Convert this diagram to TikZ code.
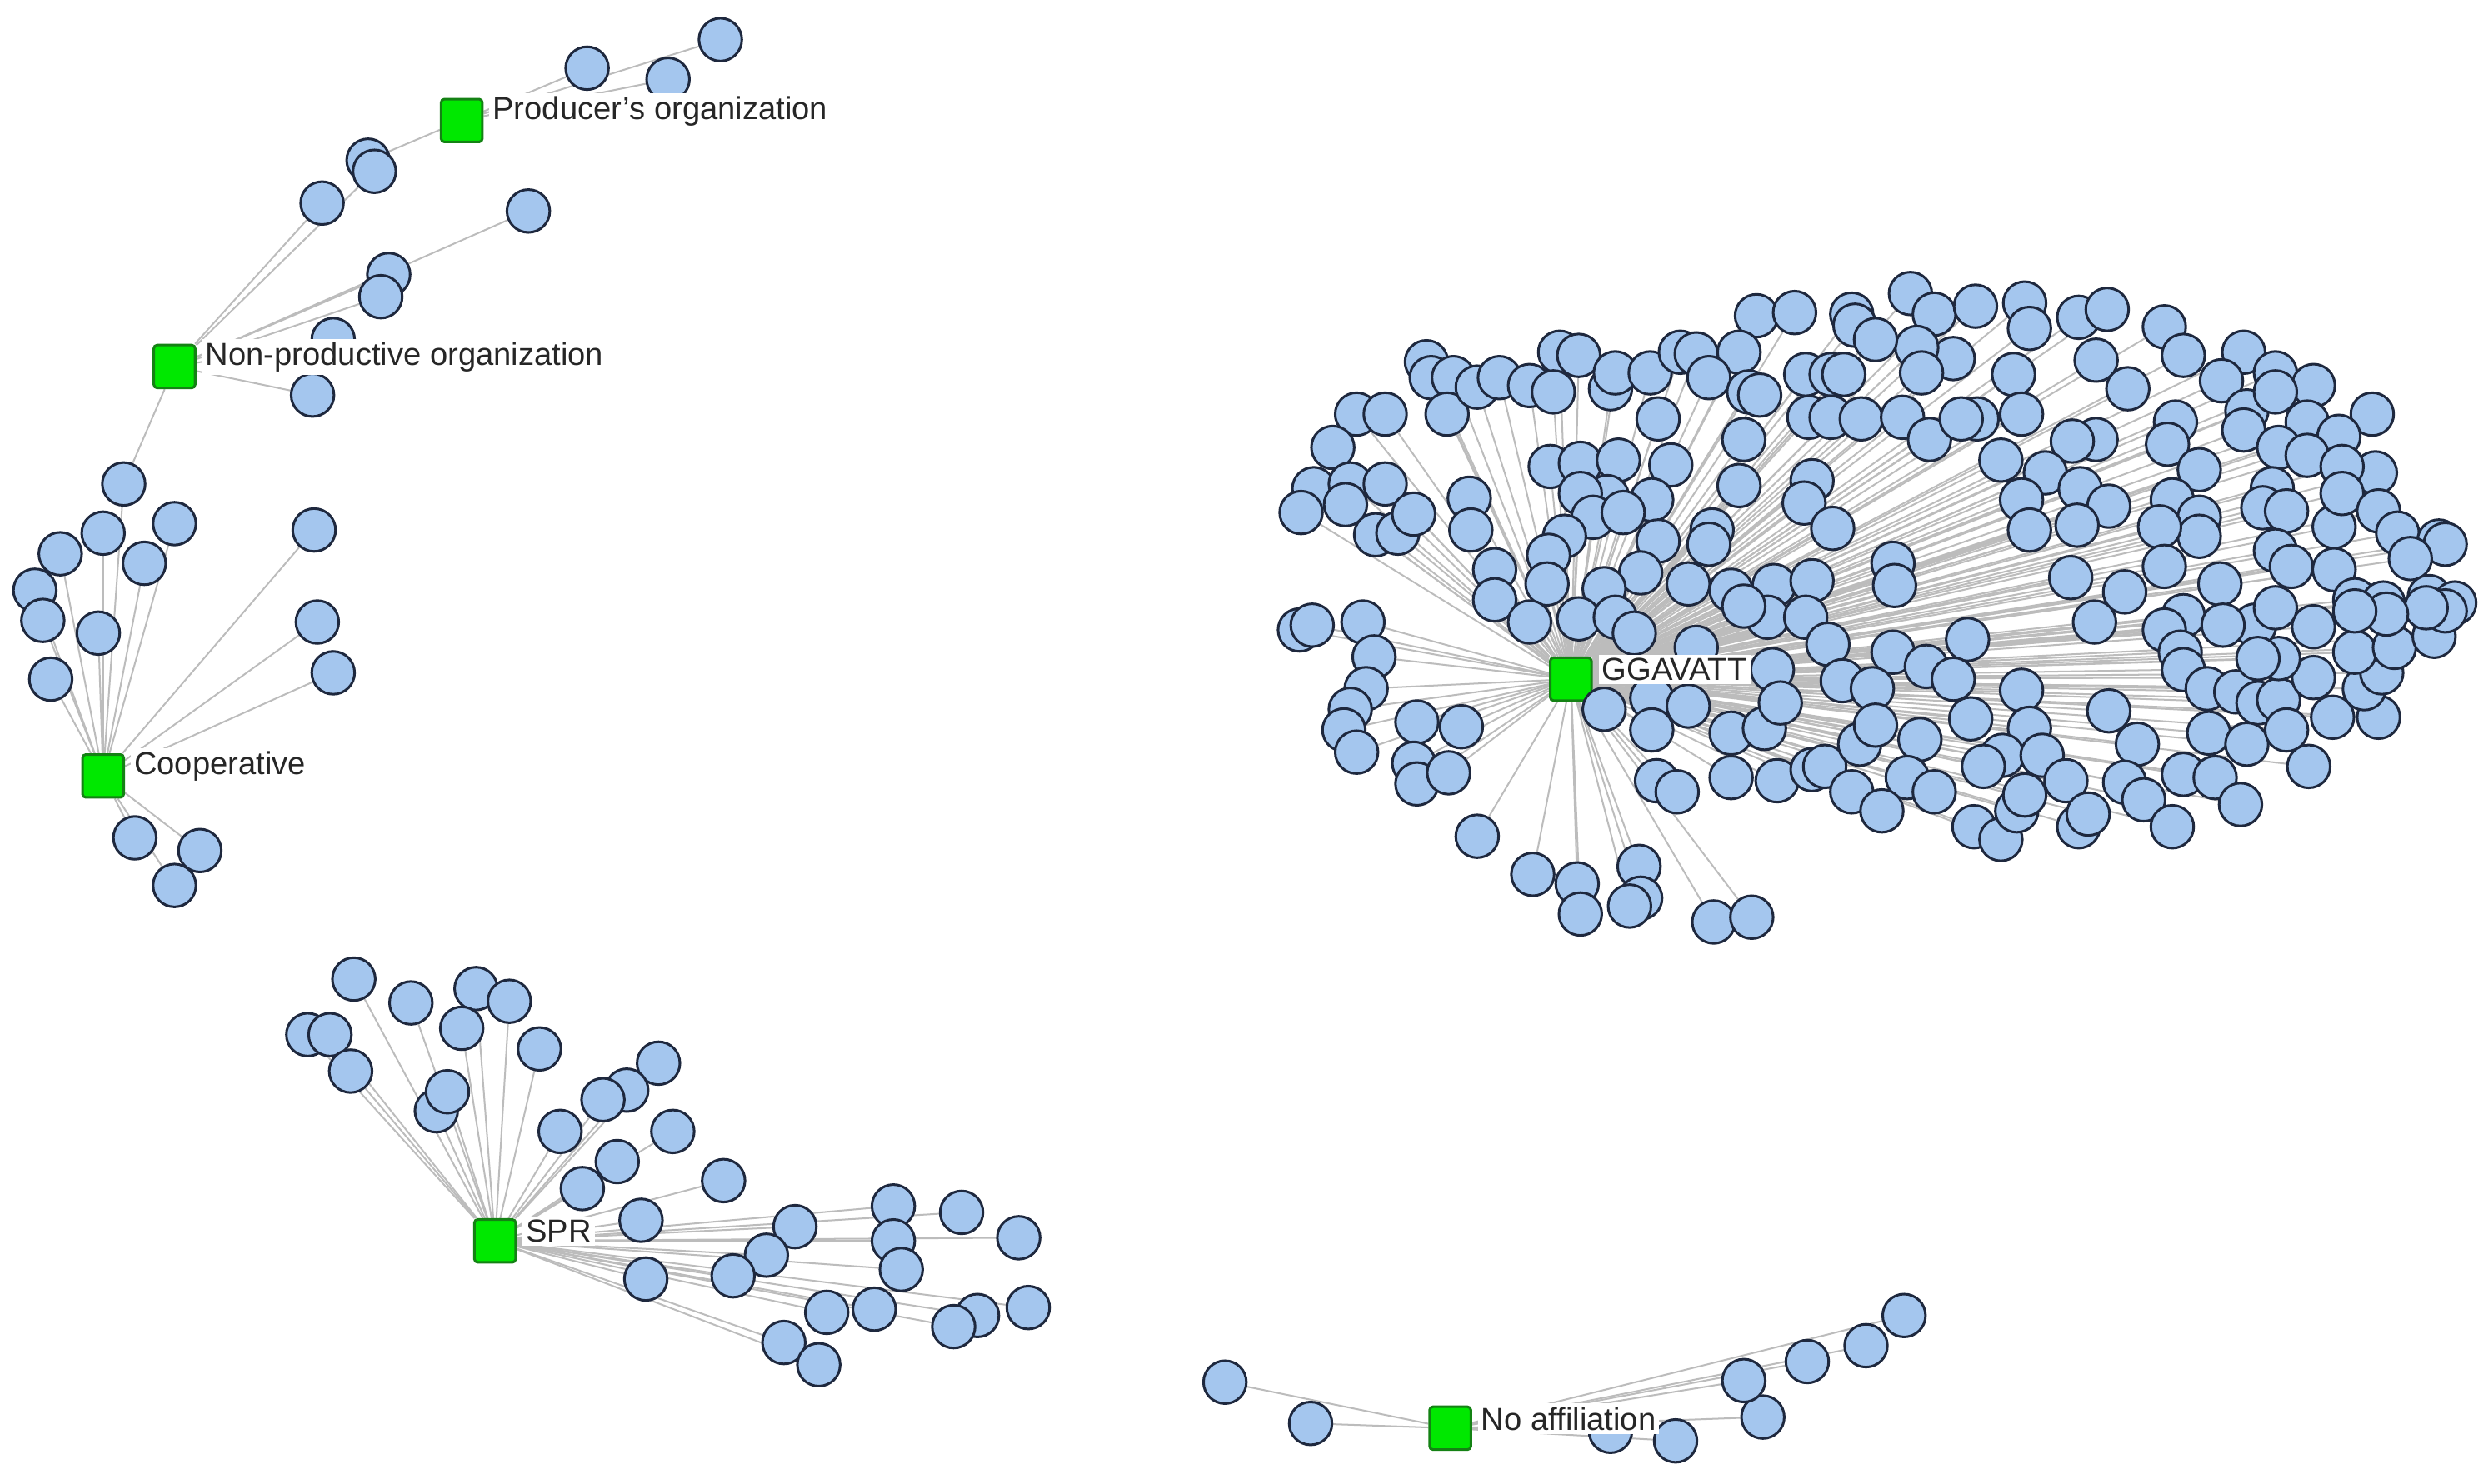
\documentclass[tikz,border=0pt]{standalone}
\usepackage{fontspec}
\setmainfont{Liberation Sans}
\pgfdeclarelayer{bg}
\pgfsetlayers{bg,main}
\definecolor{leaffill}{RGB}{164,198,238}
\definecolor{leafdraw}{RGB}{30,40,62}
\definecolor{hubfill}{RGB}{0,232,0}
\definecolor{hubdraw}{RGB}{20,130,20}
\definecolor{edgecol}{RGB}{188,188,188}
\tikzset{
 leaf/.style={circle, draw=leafdraw, fill=leaffill, line width=0.45pt, minimum size=0.27cm, inner sep=0pt},
 hub/.style={rectangle, draw=hubdraw, fill=hubfill, line width=0.45pt, minimum width=0.26cm, minimum height=0.27cm, inner sep=0pt, rounded corners=0.6pt},
 edge/.style={draw=edgecol, line width=0.3pt},
 hublabel/.style={anchor=west, fill=white, inner sep=0.6pt, font=\fontsize{5.7pt}{6.5pt}\selectfont, text=black!85},
}
\begin{document}
\begin{tikzpicture}[x=0.01cm, y=-0.01cm]
\useasboundingbox (0,0) rectangle (1568,935);

% hubs
\node[hub] (P) at (291,76) {};
\node[hub] (N) at (110,231) {};
\node[hub] (C) at (65,489) {};
\node[hub] (G) at (990,428) {};
\node[hub] (S) at (312,782) {};
\node[hub] (A) at (914,900) {};

% Producer's organization
\foreach \x/\y [count=\i] in {454/25, 421/50, 370/43, 232/101}{
  \node[leaf] (p\i) at (\x,\y) {};
}
% Non-productive organization
\foreach \x/\y [count=\i] in {236/108, 203/128, 333/133, 245/173, 240/187, 210/214, 197/249, 78/305}{
  \node[leaf] (n\i) at (\x,\y) {};
}
% Cooperative
\foreach \x/\y [count=\i] in {65/336, 110/330, 38/349, 91/355, 22/372, 27/391, 62/399, 32/428, 198/334, 200/392, 210/424, 85/528, 126/536, 110/558}{
  \node[leaf] (c\i) at (\x,\y) {};
}
% SPR
\foreach \x/\y [count=\i] in {223/617, 259/632, 300/623, 321/631, 194/652, 208/652, 291/648, 340/661, 221/675, 415/670, 395/687, 380/693, 275/700, 282/688, 353/713, 424/713, 389/732, 367/749, 456/744, 404/769, 501/773, 563/760, 606/764, 563/782, 642/780, 483/791, 568/800, 407/806, 462/804, 521/827, 551/825, 616/829, 601/836, 648/824, 494/846, 516/860}{
  \node[leaf] (s\i) at (\x,\y) {};
}
% No affiliation
\foreach \x/\y [count=\i] in {772/871, 826/897, 1015/902, 1056/908, 1111/893, 1099/870, 1139/858, 1176/848, 1200/829}{
  \node[leaf] (a\i) at (\x,\y) {};
}
% GGAVATT
\foreach \x/\y [count=\i] in {
 1107/199, 1131/197, 1167/198, 1169/205, 899/228, 902/238, 916/238, 912/261, 931/244, 945/238,
 964/243, 983/222, 995/224, 979/247, 1015/245, 1018/235, 1040/235, 1059/222, 1069/223, 1096/222,
 1077/238, 1102/247, 1109/249, 1045/264, 1099/277, 1138/236, 1154/236, 1162/236, 1140/263, 1154/263,
 1173/264, 855/261, 873/261, 840/282, 828/308, 851/305, 820/323, 873/305, 848/318, 867/337,
 881/336, 891/324, 926/314, 927/334, 977/294, 996/292, 1020/290, 1053/293, 1013/313, 1041/315,
 996/311, 1004/326, 1023/323, 986/338, 1045/341, 1079/334, 1077/343, 1096/306, 1142/303, 1137/317,
 1155/333, 942/359, 942/378, 976/350, 975/368, 1034/361, 1011/371, 1064/368, 1091/372, 1118/369,
 1142/366, 964/392, 995/390, 1018/389, 1114/389, 1138/389,
 819/397, 827/394, 859/392, 866/414, 861/434, 851/447, 847/460, 855/474, 893/455, 921/458,
 891/481, 893/494, 913/487, 931/527, 966/551, 994/557, 996/576, 1033/546, 1034/566, 1027/571,
 1080/581, 1104/578, 1030/399, 1011/447, 1041/440, 1041/460, 1064/445, 1044/492, 1057/499, 1091/490,
 1091/462, 1112/459, 1117/422, 1122/443, 1120/492, 1142/485, 1150/483, 1167/499, 1152/406, 1161/429,
 1172/469, 1099/382, 1069/408,
 1204/185, 1219/198, 1245/193, 1276/191, 1279/207, 1310/200, 1328/195, 1364/206, 1414/222, 1434/235,
 1458/243, 1495/261, 1231/226, 1208/219, 1211/235, 1182/214, 1269/236, 1321/227, 1341/245, 1376/224,
 1400/240, 1199/263, 1216/277, 1246/264, 1236/264, 1274/261, 1261/290, 1321/277, 1306/278, 1371/266,
 1366/280, 1386/296, 1416/259, 1414/271, 1434/247, 1454/266, 1474/275, 1436/282, 1454/287, 1497/298,
 1476/294, 1289/298, 1274/315, 1311/308, 1329/319, 1279/334, 1309/331, 1369/315, 1386/326, 1386/338,
 1361/332, 1432/308, 1426/320, 1441/322, 1471/332, 1476/311, 1499/322, 1511/336, 1537/341, 1541/343,
 1519/352, 1434/347, 1444/357, 1471/359, 1193/355, 1194/369, 1305/364, 1339/373, 1364/357, 1399/368,
 1484/378, 1502/380, 1531/376, 1547/380,
 1193/411, 1214/420, 1240/403, 1231/428, 1242/453, 1274/435, 1279/459, 1180/434, 1182/457, 1210/466,
 1262/476, 1250/483, 1287/476, 1302/492, 1202/490, 1219/499, 1186/511, 1244/521, 1261/529, 1271/511,
 1276/501, 1310/521, 1316/513, 1329/448, 1347/469, 1339/493, 1351/504, 1369/521, 1376/488, 1396/490,
 1412/507, 1320/392, 1376/388, 1364/397, 1374/411, 1376/422, 1391/434, 1409/436, 1423/443, 1436/441,
 1392/462, 1416/469, 1441/460, 1455/483, 1458/427, 1470/452, 1499/452, 1490/434, 1501/424, 1484/411,
 1509/408, 1534/401, 1541/385, 1529/383, 1504/387, 1484/385, 1458/395, 1436/415, 1421/394, 1434/383,
 1401/394, 1423/415}{
  \node[leaf] (g\i) at (\x,\y) {};
}

% connectors (behind everything)
\begin{pgfonlayer}{bg}
\fill[white] (0,0) rectangle (1568,935);
\foreach \i in {1,...,4} \draw[edge] (P) -- (p\i);
\foreach \i in {1,...,8} \draw[edge] (N) -- (n\i);
\draw[edge] (C) -- (n8);
\foreach \i in {1,...,14} \draw[edge] (C) -- (c\i);
\foreach \i in {1,...,36} \draw[edge] (S) -- (s\i);
\foreach \i in {1,...,9} \draw[edge] (A) -- (a\i);
\foreach \i in {1,...,255} \draw[edge] (G) -- (g\i);
\end{pgfonlayer}

% labels
\node[hublabel] (lP) at ([xshift=0.03cm, yshift=0.06cm]P.east) {Producer’s organization};
\node[hublabel] (lN) at ([xshift=0.03cm, yshift=0.06cm]N.east) {Non-productive organization};
\node[hublabel] (lC) at ([xshift=0.03cm, yshift=0.06cm]C.east) {Cooperative};
\node[hublabel] (lG) at ([xshift=0.03cm, yshift=0.06cm]G.east) {GGAVATT};
\node[hublabel] (lS) at ([xshift=0.03cm, yshift=0.06cm]S.east) {SPR};
\node[hublabel] (lA) at ([xshift=0.03cm, yshift=0.06cm]A.east) {No affiliation};
\end{tikzpicture}
\end{document}
